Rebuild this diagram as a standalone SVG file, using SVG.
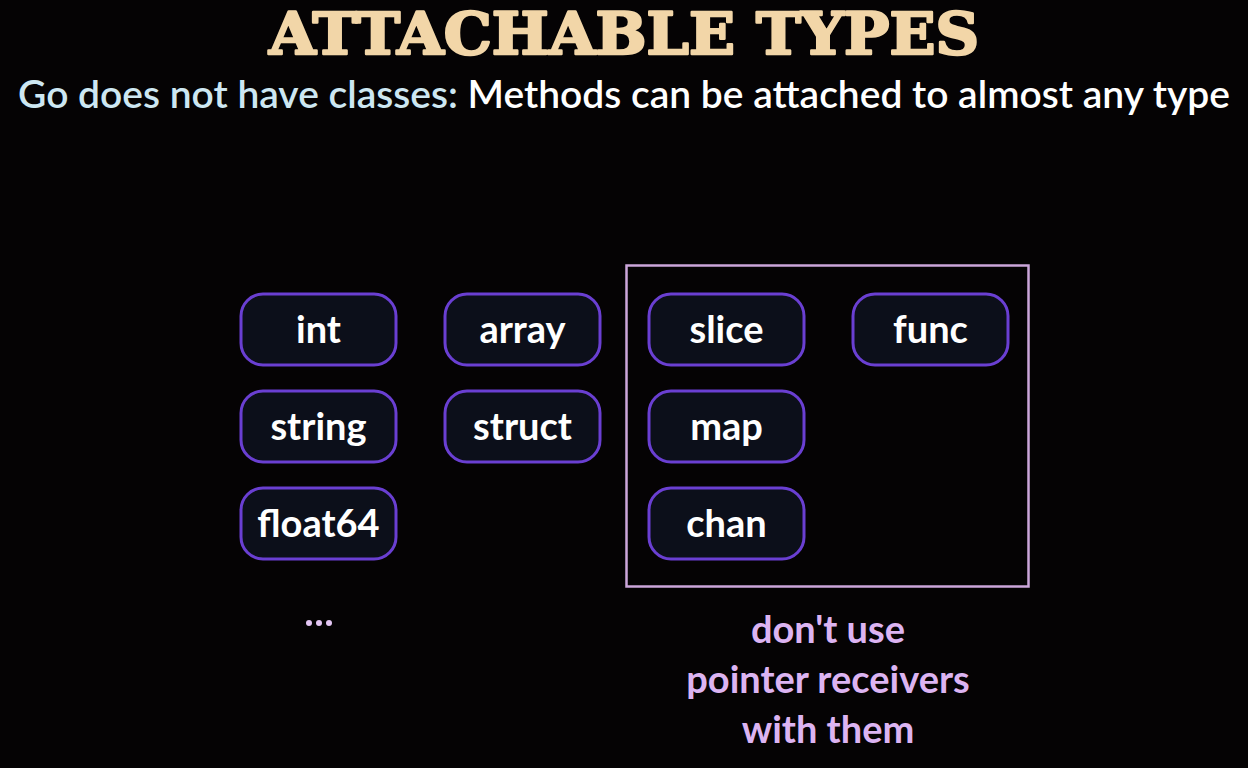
<svg xmlns="http://www.w3.org/2000/svg" width="1248" height="768" viewBox="0 0 1248 768">
  <style>
    .title { font-family: "DejaVu Serif", "Liberation Serif", serif; font-weight: bold; font-size: 58px; fill: #f2d6a8; stroke: #f2d6a8; stroke-width: 2.5; stroke-linejoin: round; }
    .sub { font-family: Lato, "Noto Sans", sans-serif; font-weight: 600; font-size: 38px; }
    .node rect { fill: #0c0f1a; stroke: #6a3fd2; stroke-width: 3; }
    .node text { font-family: Lato, "Noto Sans", sans-serif; font-weight: bold; font-size: 38px; fill: #ffffff; text-anchor: middle; }
    .note { font-family: Lato, "Noto Sans", sans-serif; font-weight: bold; font-size: 38px; fill: #dcb4f2; text-anchor: middle; }
  </style>
  <rect width="1248" height="768" fill="#050304"/>

  <!-- heading -->
  <text class="title" x="269" y="54" textLength="710" lengthAdjust="spacingAndGlyphs">ATTACHABLE TYPES</text>
  <text class="sub" x="18" y="108" textLength="1212" lengthAdjust="spacingAndGlyphs"><tspan fill="#cde7f2">Go does not have classes:</tspan><tspan fill="#ffffff"> Methods can be attached to almost any type</tspan></text>

  <!-- frame around reference-like types -->
  <g id="ref-group">
    <rect x="626.5" y="265.5" width="402" height="321" fill="none" stroke="#cba6da" stroke-width="2.5"/>
  </g>

  <g id="connectors"></g>

  <!-- type nodes -->
  <g id="node-int" class="node"><rect x="241" y="294" width="155" height="71" rx="22"/><text x="318.5" y="343">int</text></g>
  <g id="node-string" class="node"><rect x="241" y="391" width="155" height="71" rx="22"/><text x="318.5" y="440">string</text></g>
  <g id="node-float64" class="node"><rect x="241" y="488" width="155" height="71" rx="22"/><text x="318.5" y="537">float64</text></g>
  <g id="node-array" class="node"><rect x="445" y="294" width="155" height="71" rx="22"/><text x="522.5" y="343">array</text></g>
  <g id="node-struct" class="node"><rect x="445" y="391" width="155" height="71" rx="22"/><text x="522.5" y="440">struct</text></g>
  <g id="node-slice" class="node"><rect x="649" y="294" width="155" height="71" rx="22"/><text x="726.5" y="343">slice</text></g>
  <g id="node-map" class="node"><rect x="649" y="391" width="155" height="71" rx="22"/><text x="726.5" y="440">map</text></g>
  <g id="node-chan" class="node"><rect x="649" y="488" width="155" height="71" rx="22"/><text x="726.5" y="537">chan</text></g>
  <g id="node-func" class="node"><rect x="853" y="294" width="155" height="71" rx="22"/><text x="930.5" y="343">func</text></g>

  <!-- ellipsis -->
  <g id="ellipsis" fill="#e4c6f4">
    <circle cx="309" cy="623" r="3"/>
    <circle cx="319" cy="623" r="3"/>
    <circle cx="329" cy="623" r="3"/>
  </g>

  <!-- note -->
  <g id="note">
    <text class="note" x="828" y="643">don't use</text>
    <text class="note" x="828" y="693">pointer receivers</text>
    <text class="note" x="828" y="743">with them</text>
  </g>
</svg>
